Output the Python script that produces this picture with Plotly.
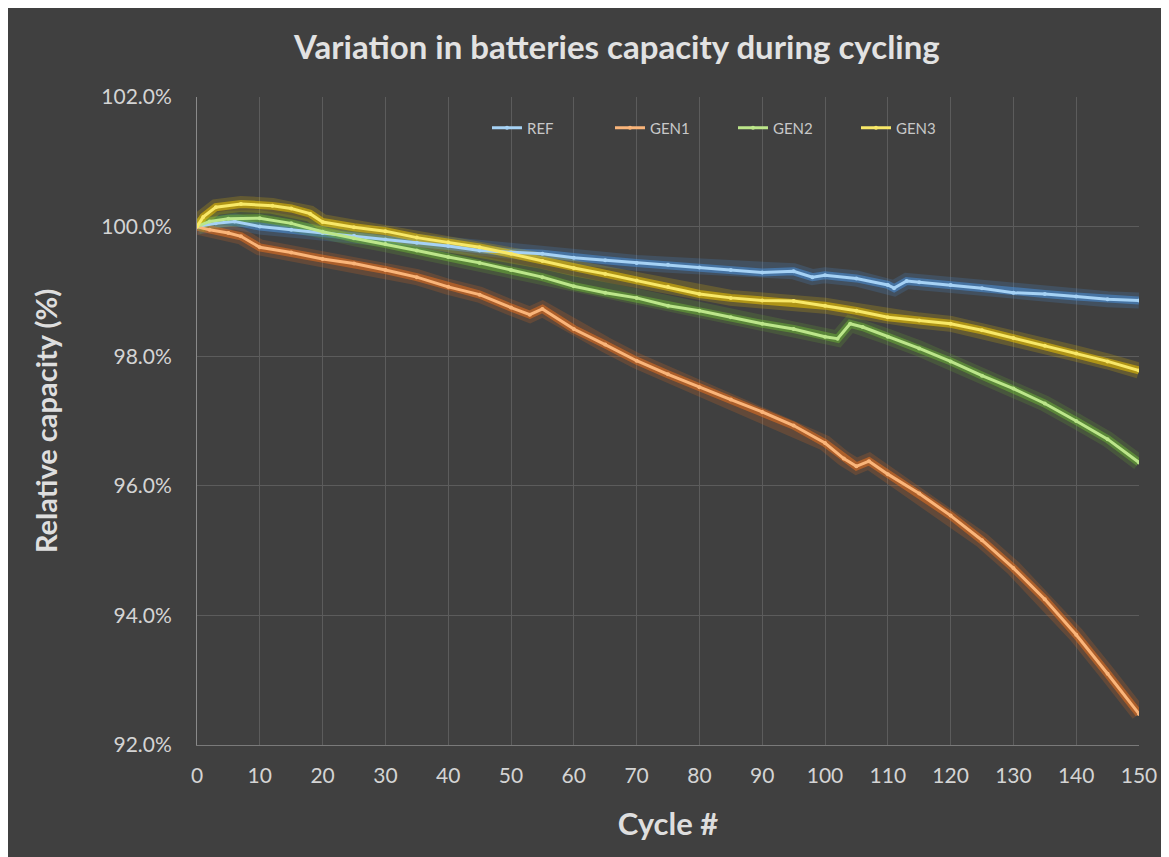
import plotly.graph_objects as go

# ---- data ----
ref_cycles = [0, 3, 6, 10, 15, 20, 25, 30, 35, 40, 45, 50, 55, 60, 65, 70, 75, 80, 85, 90,
              95, 98, 100, 105, 110, 111, 113, 115, 120, 125, 130, 135, 140, 145, 150]
ref_values = [100.0, 100.05, 100.08, 100.0, 99.95, 99.9, 99.86, 99.8, 99.75, 99.7, 99.63, 99.6,
              99.58, 99.52, 99.48, 99.44, 99.41, 99.37, 99.33, 99.29, 99.31, 99.22, 99.25, 99.2,
              99.1, 99.05, 99.16, 99.14, 99.1, 99.05, 98.98, 98.96, 98.92, 98.88, 98.86]

gen1_cycles = [0, 2, 5, 7, 10, 15, 20, 25, 30, 35, 40, 45, 50, 53, 55, 60, 65, 70, 75, 80, 85,
               90, 95, 100, 103, 105, 107, 110, 115, 120, 125, 130, 135, 140, 145, 150]
gen1_values = [100.0, 99.95, 99.9, 99.85, 99.68, 99.6, 99.5, 99.43, 99.33, 99.22, 99.07, 98.95,
               98.75, 98.64, 98.73, 98.42, 98.18, 97.93, 97.72, 97.52, 97.33, 97.14, 96.93, 96.66,
               96.42, 96.3, 96.38, 96.18, 95.88, 95.54, 95.16, 94.73, 94.25, 93.7, 93.1, 92.48]

gen2_cycles = [0, 2, 5, 10, 15, 20, 25, 30, 35, 40, 45, 50, 55, 60, 65, 70, 75, 80, 85, 90, 95,
               100, 102, 104, 106, 110, 115, 120, 125, 130, 135, 140, 145, 150]
gen2_values = [100.0, 100.08, 100.12, 100.13, 100.05, 99.92, 99.82, 99.73, 99.63, 99.53, 99.44,
               99.33, 99.22, 99.08, 98.98, 98.9, 98.78, 98.7, 98.6, 98.5, 98.42, 98.3, 98.27, 98.5,
               98.45, 98.3, 98.12, 97.92, 97.7, 97.5, 97.27, 97.0, 96.72, 96.36]

gen3_cycles = [0, 1, 3, 7, 12, 15, 18, 20, 25, 30, 35, 40, 45, 50, 55, 60, 65, 70, 75, 80, 85,
               90, 95, 100, 105, 110, 115, 120, 125, 130, 135, 140, 145, 150]
gen3_values = [100.0, 100.15, 100.3, 100.35, 100.32, 100.28, 100.2, 100.07, 99.99, 99.93, 99.83,
               99.76, 99.68, 99.58, 99.47, 99.36, 99.27, 99.17, 99.07, 98.96, 98.9, 98.86, 98.85,
               98.78, 98.7, 98.6, 98.55, 98.5, 98.4, 98.28, 98.16, 98.04, 97.92, 97.78]

series_names = ["REF", "GEN1", "GEN2", "GEN3"]
x_ticks = list(range(0, 151, 10))
y_ticks = [92, 94, 96, 98, 100, 102]

# ---- styles ----
core_colors = ["#a6d2f5", "#fab57a", "#bce68a", "#f8e868"]
glow_colors = ["#4a90d9", "#e8701e", "#6aae36", "#eec400"]

series = [(ref_cycles, ref_values), (gen1_cycles, gen1_values),
          (gen2_cycles, gen2_values), (gen3_cycles, gen3_values)]

fig = go.Figure()

# glow layers
for (xs, ys), gc in zip(series, glow_colors):
    fig.add_trace(go.Scatter(x=xs, y=ys, mode="lines", showlegend=False, hoverinfo="skip",
                             line=dict(color=gc, width=16), opacity=0.2))
    fig.add_trace(go.Scatter(x=xs, y=ys, mode="lines", showlegend=False, hoverinfo="skip",
                             line=dict(color=gc, width=8), opacity=0.55))

# core lines
for name, (xs, ys), cc in zip(series_names, series, core_colors):
    fig.add_trace(go.Scatter(x=xs, y=ys, mode="lines+markers", name=name,
                             line=dict(color=cc, width=3),
                             marker=dict(color=cc, size=4)))

bg = "#404040"
text_col = "#d4d4d4"
font_fam = "Lato, 'Open Sans', sans-serif"

fig.update_layout(
    width=1161, height=849,
    paper_bgcolor=bg, plot_bgcolor=bg,
    margin=dict(l=189, r=25, t=89, b=112),
    font=dict(family=font_fam, color=text_col, size=21),
    title=dict(text="<b>Variation in batteries capacity during cycling</b>",
               x=0.5245, xanchor="center", y=0.953, yanchor="middle",
               font=dict(size=33, color="#e2e2e2", family=font_fam)),
    legend=dict(orientation="h", x=0.569, xanchor="center", y=0.952, yanchor="middle",
                bgcolor="rgba(0,0,0,0)", font=dict(size=15, color="#c8c8c8"),
                entrywidth=78, entrywidthmode="pixels"),
    showlegend=True,
)

fig.update_xaxes(range=[0, 150], tickvals=x_ticks, ticktext=[str(v) for v in x_ticks],
                 showgrid=True, gridcolor="#5c5c5c", gridwidth=1,
                 showline=True, linecolor="#7a7a7a", linewidth=1,
                 zeroline=False, ticks="", ticklabelstandoff=12,
                 tickfont=dict(size=21, color=text_col),
                 title=dict(text="<b>Cycle #</b>", font=dict(size=31, color="#dedede"), standoff=27))

fig.update_yaxes(range=[92, 102], tickvals=y_ticks, ticktext=[f"{v:.1f}%" for v in y_ticks],
                 showgrid=True, gridcolor="#5c5c5c", gridwidth=1,
                 showline=True, linecolor="#8a8a8a", linewidth=1,
                 zeroline=False, ticks="", ticklabelstandoff=20,
                 tickfont=dict(size=21, color=text_col),
                 title=dict(text="<b>Relative capacity (%)</b>", font=dict(size=29, color="#dedede"),
                            standoff=35))

fig.write_html("out.html")
